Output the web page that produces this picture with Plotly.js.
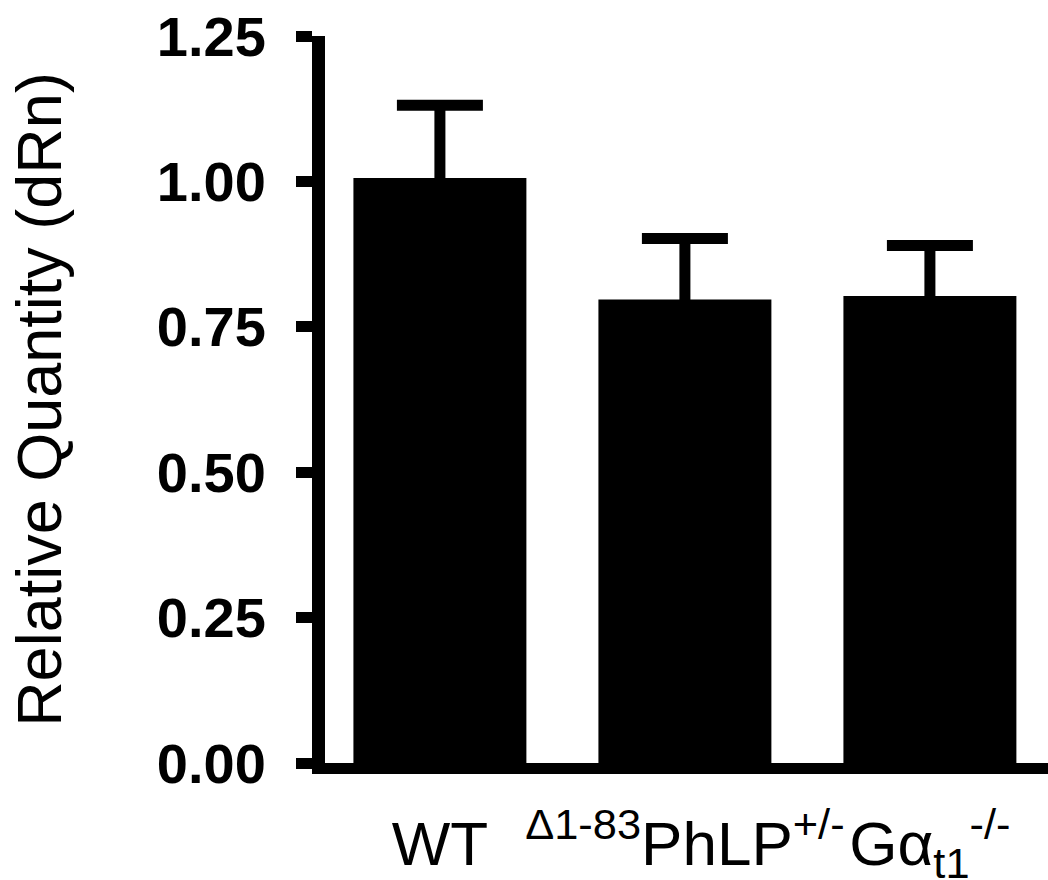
<!DOCTYPE html>
<html><head><meta charset="utf-8">
<script src="https://cdn.plot.ly/plotly-3.0.1.min.js"></script>
<style>html,body{margin:0;padding:0;background:#fff}</style>
</head><body><div id="chart" style="width:1048px;height:880px"></div>
<script>
const categories = ['WT', 'd183PhLP', 'Gat1'];
const tickLabels = ['WT', '<sup>Δ1-83</sup>PhLP<sup>+/-</sup>', 'Gα<sub>t1</sub><sup>-/-</sup>'];
const means = [1.006, 0.797, 0.803];
const errSem = [0.125, 0.105, 0.087];
const yTicks = [0, 0.25, 0.5, 0.75, 1.0, 1.25];
const yTickText = ['0.00', '0.25', '0.50', '0.75', '1.00', '1.25'];

const trace = {
  type: 'bar',
  x: categories,
  y: means,
  width: 0.706,
  marker: {color: '#000000', line: {width: 0}},
  error_y: {
    type: 'data', symmetric: true, array: errSem,
    color: '#000000', thickness: 11, width: 43, visible: true
  },
  hoverinfo: 'none'
};

const layout = {
  width: 1048, height: 880,
  margin: {l: 325, r: 0, t: 36, b: 117, pad: 0},
  paper_bgcolor: '#ffffff', plot_bgcolor: '#ffffff',
  showlegend: false,
  xaxis: {
    type: 'category',
    range: [-0.469, 2.482],
    tickvals: categories, ticktext: tickLabels,
    tickangle: 0,
    showline: true, linewidth: 11, linecolor: '#000000',
    ticks: '', showgrid: false, zeroline: false,
    ticklabelstandoff: 17,
    tickfont: {family: 'Liberation Sans, Arial, sans-serif', size: 62, color: '#000000'}
  },
  yaxis: {
    range: [0, 1.25],
    tickvals: yTicks, ticktext: yTickText,
    ticks: 'outside', ticklen: 16, tickwidth: 11, tickcolor: '#000000',
    showline: true, linewidth: 13, linecolor: '#000000',
    showgrid: false, zeroline: false,
    ticklabelstandoff: 19,
    tickfont: {family: 'Liberation Sans, Arial, sans-serif', size: 56, weight: 'bold', color: '#000000'},
    title: {text: 'Relative Quantity (dRn)', standoff: 80,
            font: {family: 'Liberation Sans, Arial, sans-serif', size: 63, color: '#000000'}}
  }
};

Plotly.newPlot('chart', [trace], layout, {staticPlot: true, displayModeBar: false});
</script></body></html>
